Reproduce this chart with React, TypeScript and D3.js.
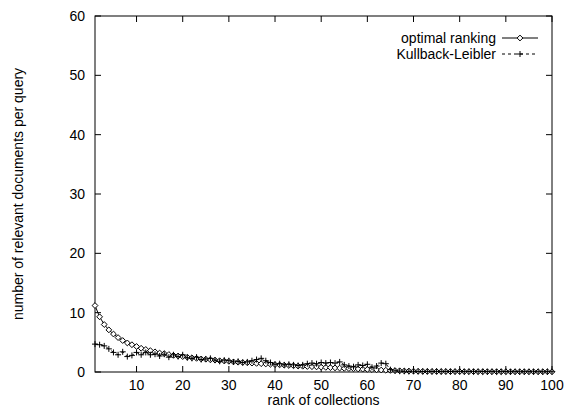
import React from 'react';
import * as d3 from 'd3';

// relevant documents per query at rank 1..100
const optimal = [
  11.2, 9.3, 8.0, 7.1, 6.4, 5.8, 5.3, 4.9, 4.6, 4.3,
  4.0, 3.8, 3.6, 3.4, 3.2, 3.1, 2.95, 2.8, 2.7, 2.6,
  2.5, 2.4, 2.3, 2.2, 2.15, 2.05, 2.0, 1.9, 1.85, 1.8,
  1.7, 1.65, 1.6, 1.55, 1.5, 1.45, 1.4, 1.35, 1.3, 1.25,
  1.2, 1.15, 1.1, 1.05, 1.0, 0.97, 0.93, 0.9, 0.86, 0.82,
  0.78, 0.74, 0.7, 0.66, 0.62, 0.58, 0.55, 0.51, 0.48, 0.44,
  0.4, 0.37, 0.33, 0.3, 0.27, 0.24, 0.21, 0.18, 0.16, 0.14,
  0.12, 0.11, 0.1, 0.09, 0.09, 0.08, 0.08, 0.07, 0.07, 0.07,
  0.06, 0.06, 0.06, 0.06, 0.05, 0.05, 0.05, 0.05, 0.05, 0.05,
  0.04, 0.04, 0.04, 0.04, 0.04, 0.04, 0.04, 0.04, 0.04, 0.04,
];

const kullbackLeibler = [
  4.7, 4.6, 4.4, 3.9, 3.3, 2.9, 3.4, 2.6, 2.8, 3.3,
  2.9, 3.3, 2.9, 3.0, 2.7, 3.0, 2.5, 2.9, 2.6, 2.9,
  2.4, 2.3, 2.5, 2.1, 2.2, 2.3, 2.0, 1.8, 2.0, 1.9,
  1.7, 1.8, 1.6, 1.7, 1.9, 2.1, 2.3, 1.9, 1.6, 1.3,
  1.4, 1.2, 1.3, 1.2, 1.1, 1.2, 1.4, 1.5, 1.4, 1.6,
  1.5, 1.6, 1.5, 1.7, 1.2, 1.0, 0.9, 1.2, 1.1, 1.3,
  0.8, 1.0, 1.5, 1.4, 0.4, 0.2, 0.15, 0.12, 0.1, 0.12,
  0.1, 0.08, 0.1, 0.08, 0.1, 0.07, 0.09, 0.08, 0.07, 0.1,
  0.06, 0.08, 0.07, 0.06, 0.08, 0.06, 0.07, 0.05, 0.06, 0.07,
  0.05, 0.06, 0.05, 0.05, 0.06, 0.05, 0.05, 0.04, 0.05, 0.05,
];

const xTicks = [10, 20, 30, 40, 50, 60, 70, 80, 90, 100];
const yTicks = [0, 10, 20, 30, 40, 50, 60];

const W = 566;
const H = 412;
const margin = { top: 16, right: 14, bottom: 40, left: 95 };
const FONT = '"Liberation Sans", Arial, Helvetica, sans-serif';

export default function App() {
  const x = d3.scaleLinear().domain([1, 100]).range([margin.left, W - margin.right]);
  const y = d3.scaleLinear().domain([0, 60]).range([H - margin.bottom, margin.top]);
  const [x0, x1] = x.range();
  const [y0, y1] = y.range();
  const tick = 6;

  const line = d3
    .line<number>()
    .x((_, i) => x(i + 1))
    .y((d) => y(d));

  const diamond = (cx: number, cy: number, r = 2.9) =>
    `M${cx},${cy - r}L${cx + r},${cy}L${cx},${cy + r}L${cx - r},${cy}Z`;
  const plus = (cx: number, cy: number, r = 3) =>
    `M${cx - r},${cy}H${cx + r}M${cx},${cy - r}V${cy + r}`;

  const legendX = 538;
  const legendLen = 36;
  const row1 = 38;
  const row2 = 54;

  return (
    <div style={{ position: 'absolute', left: 0, top: 0 }}>
      <svg width={W} height={H} style={{ display: 'block', background: '#fff' }} fontFamily={FONT}>
        {/* frame */}
        <rect x={x0} y={y1} width={x1 - x0} height={y0 - y1} fill="none" stroke="#000" strokeWidth={1} />

        {/* x ticks (bottom + mirrored top) */}
        {xTicks.map((t) => (
          <g key={`x${t}`}>
            <line x1={x(t)} x2={x(t)} y1={y0} y2={y0 - tick} stroke="#000" />
            <line x1={x(t)} x2={x(t)} y1={y1} y2={y1 + tick} stroke="#000" />
            <text x={x(t)} y={y0 + 18} textAnchor="middle" fontSize={14}>
              {t}
            </text>
          </g>
        ))}

        {/* y ticks (left + mirrored right) */}
        {yTicks.map((t) => (
          <g key={`y${t}`}>
            <line x1={x0} x2={x0 + tick} y1={y(t)} y2={y(t)} stroke="#000" />
            <line x1={x1} x2={x1 - tick} y1={y(t)} y2={y(t)} stroke="#000" />
            <text x={x0 - 10} y={y(t)} dy="0.35em" textAnchor="end" fontSize={14}>
              {t}
            </text>
          </g>
        ))}

        <text x={(x0 + x1) / 2} y={H - 7} textAnchor="middle" fontSize={14}>
          rank of collections
        </text>
        <text
          transform={`translate(18, ${(y0 + y1) / 2}) rotate(-90)`}
          textAnchor="middle"
          dy="0.35em"
          fontSize={14}
        >
          number of relevant documents per query
        </text>

        {/* optimal ranking */}
        <path d={line(optimal) || ''} fill="none" stroke="#000" strokeWidth={1} />
        {optimal.map((d, i) => (
          <path key={`o${i}`} d={diamond(x(i + 1), y(d))} fill="#fff" stroke="#000" strokeWidth={1} />
        ))}

        {/* Kullback-Leibler */}
        <path d={line(kullbackLeibler) || ''} fill="none" stroke="#000" strokeWidth={1} strokeDasharray="3,3" />
        {kullbackLeibler.map((d, i) => (
          <path key={`k${i}`} d={plus(x(i + 1), y(d))} fill="none" stroke="#000" strokeWidth={1} />
        ))}

        {/* legend */}
        <text x={legendX - legendLen - 6} y={row1} dy="0.35em" textAnchor="end" fontSize={14}>
          optimal ranking
        </text>
        <line x1={legendX - legendLen} x2={legendX} y1={row1} y2={row1} stroke="#000" />
        <path d={diamond(legendX - legendLen / 2, row1)} fill="#fff" stroke="#000" />
        <text x={legendX - legendLen - 6} y={row2} dy="0.35em" textAnchor="end" fontSize={14}>
          Kullback-Leibler
        </text>
        <line x1={legendX - legendLen} x2={legendX} y1={row2} y2={row2} stroke="#000" strokeDasharray="3,3" />
        <path d={plus(legendX - legendLen / 2, row2)} fill="none" stroke="#000" />
      </svg>
    </div>
  );
}
